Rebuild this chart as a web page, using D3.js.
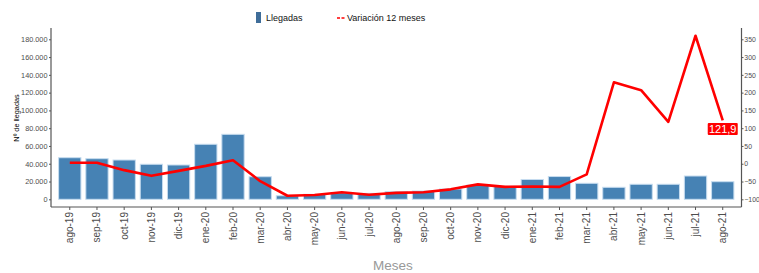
<!DOCTYPE html>
<html>
<head>
<meta charset="utf-8">
<script src="https://cdn.jsdelivr.net/npm/d3@7"></script>
<style>
  body { margin: 0; background: #fff; }
  svg { font-family: "Liberation Sans", Arial, sans-serif; }
</style>
</head>
<body>
<svg id="chart" width="759" height="273"></svg>
<script>
const months = ['ago-19','sep-19','oct-19','nov-19','dic-19','ene-20','feb-20','mar-20','abr-20','may-20',
  'jun-20','jul-20','ago-20','sep-20','oct-20','nov-20','dic-20','ene-21','feb-21','mar-21','abr-21',
  'may-21','jun-21','jul-21','ago-21'];
const llegadas = [46800, 45700, 44200, 39400, 38600, 61900, 73100, 25400, 4000, 5600,
  7400, 6700, 8600, 9300, 11600, 16000, 14600, 22300, 25600, 18000, 13500,
  16900, 16900, 26200, 19800];
const variacion = [3, 3, -18, -34, -20, -6, 10, -49, -90, -88,
  -80, -87, -82, -80, -72, -58, -65, -64, -65, -30, 229,
  207, 118, 360, 121.9];
const leftTicks = [0, 20000, 40000, 60000, 80000, 100000, 120000, 140000, 160000, 180000];
const rightTicks = [-100, -50, 0, 50, 100, 150, 200, 250, 300, 350];

const svg = d3.select('#chart');
const mLeft = 51, mRight = 741.5, mTop = 28, mBottom = 207;

// ejes: izquierdo llegadas, derecho variación (der = izq/400 - 100)
const y = d3.scaleLinear().domain([0, 180000]).range([199.3, 39.3]);
const y2 = d3.scaleLinear().domain([-100, 350]).range([199.3, 39.3]);
const x = d3.scaleBand().domain(months).range([mLeft, mRight]).paddingInner(0.18).paddingOuter(0.28);

const fmt = d3.formatLocale({ decimal: ',', thousands: '.', grouping: [3], currency: ['', '€'] });

svg.append('g')
  .selectAll('rect').data(months).join('rect')
  .attr('x', d => x(d))
  .attr('width', x.bandwidth())
  .attr('y', (d, i) => y(llegadas[i]))
  .attr('height', (d, i) => y(0) - y(llegadas[i]))
  .attr('fill', '#4682b4')
  .attr('stroke', '#c6dcef')
  .attr('stroke-width', 1);

const line = d3.line()
  .x((d, i) => x(months[i]) + x.bandwidth() / 2)
  .y(d => y2(d));
svg.append('path').datum(variacion)
  .attr('d', line)
  .attr('fill', 'none')
  .attr('stroke', '#ff0000')
  .attr('stroke-width', 2.6)
  .attr('stroke-linejoin', 'round');

// etiqueta último valor
const lastX = x(months[24]) + x.bandwidth() / 2;
const lastY = y2(variacion[24]);
const lab = svg.append('g').attr('transform', `translate(${lastX},${lastY + 8})`);
lab.append('rect').attr('x', -15).attr('y', -5.5).attr('width', 30).attr('height', 12).attr('fill', '#ff0000').attr('rx', 1);
lab.append('text').attr('text-anchor', 'middle').attr('dy', 4.5)
  .attr('fill', '#fff').attr('font-size', 11)
  .text(fmt.format(',.1f')(variacion[24]));

const axisCol = '#4d4d4d';
const yAxis = svg.append('g').attr('transform', `translate(${mLeft},0)`)
  .call(d3.axisLeft(y).tickValues(leftTicks).tickFormat(fmt.format(',')).tickSize(2).tickPadding(1.5));
const y2Axis = svg.append('g').attr('transform', `translate(${mRight},0)`)
  .call(d3.axisRight(y2).tickValues(rightTicks).tickSize(2).tickPadding(0.8));
const xAxis = svg.append('g').attr('transform', `translate(0,${mBottom})`)
  .call(d3.axisBottom(x).tickSize(3).tickPadding(2));

[yAxis, y2Axis, xAxis].forEach(g => {
  g.select('.domain').attr('stroke', '#555').attr('stroke-width', 1.2);
  g.selectAll('.tick line').attr('stroke', '#555');
  g.selectAll('text').attr('fill', axisCol).attr('font-size', 7.3).attr('font-family', '"Liberation Sans", Arial, sans-serif');
});
y2Axis.selectAll('text').attr('font-size', 6.9);
yAxis.select('.domain').attr('d', `M0,${mTop}V${mBottom}`);
y2Axis.select('.domain').attr('d', `M0,${mTop}V${mBottom}`);
xAxis.select('.domain').attr('d', `M${mLeft},0H${mRight}`);

xAxis.selectAll('text')
  .attr('font-size', 10)
  .attr('transform', 'rotate(-90)')
  .attr('text-anchor', 'end')
  .attr('x', -5)
  .attr('y', 0)
  .attr('dy', '0.35em');

svg.append('text')
  .attr('transform', 'translate(19,118) rotate(-90)')
  .attr('text-anchor', 'middle')
  .attr('font-size', 7.3)
  .attr('fill', '#000')
  .text('Nº de llegadas');

svg.append('text')
  .attr('x', 393).attr('y', 270)
  .attr('text-anchor', 'middle')
  .attr('font-size', 13.5)
  .attr('fill', '#999')
  .text('Meses');

// leyenda
const leg = svg.append('g');
leg.append('rect').attr('x', 256).attr('y', 12).attr('width', 5).attr('height', 11).attr('fill', '#3f6d99');
leg.append('text').attr('x', 266).attr('y', 21).attr('font-size', 9).attr('fill', '#111').text('Llegadas');
leg.append('line').attr('x1', 337).attr('x2', 345).attr('y1', 18).attr('y2', 18)
  .attr('stroke', '#ff0000').attr('stroke-width', 1.5).attr('stroke-dasharray', '3,1.5');
leg.append('text').attr('x', 347).attr('y', 21).attr('font-size', 9).attr('fill', '#111').text('Variación 12 meses');
</script>
</body>
</html>
